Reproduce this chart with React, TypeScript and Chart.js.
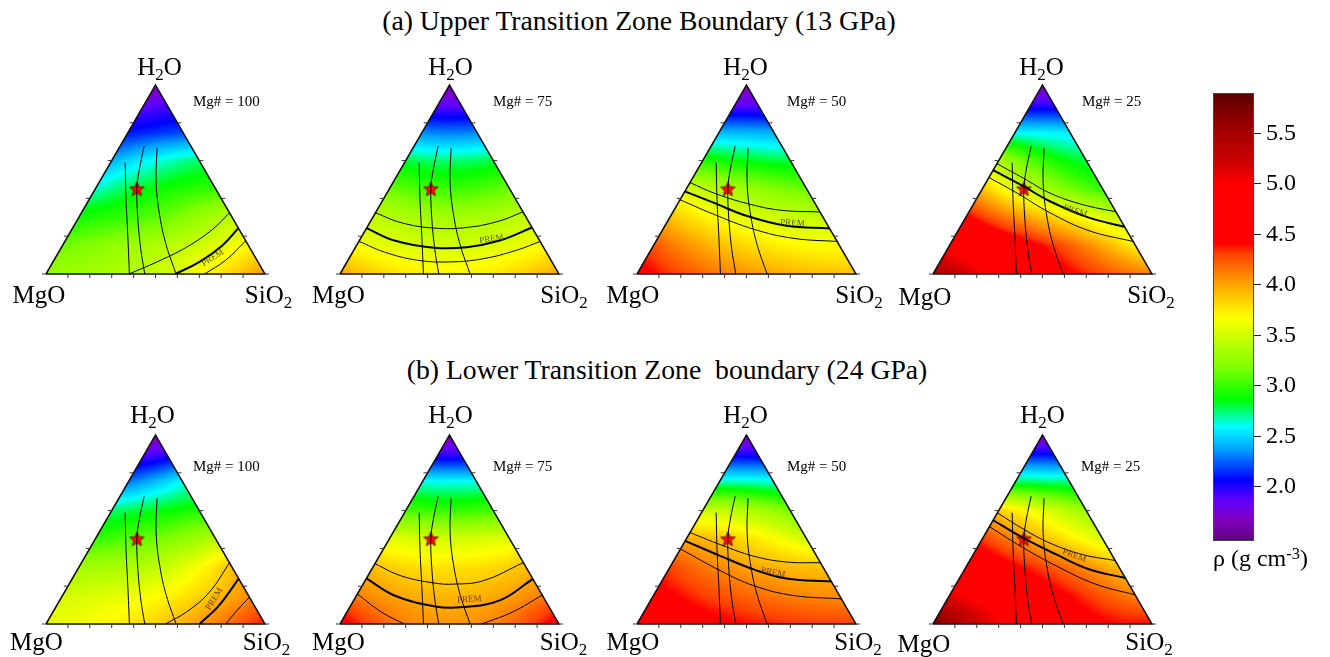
import React, { useEffect, useRef } from "react";
import { Chart, registerables } from "chart.js";

Chart.register(...registerables);

const SERIF = "'Liberation Serif', 'Times New Roman', Times, serif";
Chart.defaults.font.family = SERIF;

// ---------------- data ----------------
const MG_NUMBERS = [100, 75, 50, 25];
const ROW_TITLES = [
  "(a) Upper Transition Zone Boundary (13 GPa)",
  "(b) Lower Transition Zone  boundary (24 GPa)",
];
const PREM_TEXT = "PREM";

// colour bar (density, g cm-3)
const CB_MIN = 1.465;
const CB_MAX = 5.9;
const CB_TICKS = [2.0, 2.5, 3.0, 3.5, 4.0, 4.5, 5.0, 5.5];

const CMAP_VALUES = [1.46, 1.68, 1.87, 2.07, 2.37, 2.6, 2.73, 2.87, 3.19, 3.45, 3.68, 3.88, 4.08, 4.31, 4.41, 5.0, 5.2, 5.56, 5.9];
const CMAP_COLORS = [
  [96, 0, 128], [128, 0, 192], [96, 0, 255], [0, 0, 255], [0, 160, 255], [0, 255, 255],
  [0, 255, 128], [0, 255, 0], [128, 255, 0], [192, 255, 0], [255, 255, 0], [255, 200, 0],
  [255, 140, 0], [255, 64, 0], [255, 0, 0], [255, 0, 0], [208, 0, 0], [160, 0, 0], [90, 0, 0],
];

// density field: rows at these H2O fractions, values at relative positions 0, 0.5, 1 (MgO side -> SiO2 side)
const FIELD_H2O = [0, 0.15, 0.3, 0.45, 0.6, 0.75, 0.9, 1.0];

const RHO_A1 = [[3.30, 3.48, 4.05], [3.15, 3.38, 3.68], [2.92, 3.10, 3.45], [2.65, 2.88, 3.00], [2.42, 2.62, 2.75], [2.10, 2.15, 2.20], [1.85, 1.87, 1.90], [1.62, 1.62, 1.62]];
const RHO_A2 = [[4.00, 3.72, 4.00], [3.66, 3.52, 3.67], [3.46, 3.34, 3.47], [3.15, 3.02, 3.15], [2.80, 2.75, 2.80], [2.32, 2.30, 2.32], [1.85, 1.85, 1.85], [1.62, 1.62, 1.62]];
const RHO_A3 = [[4.50, 4.05, 3.90], [4.25, 3.82, 3.67], [3.90, 3.57, 3.47], [3.52, 3.30, 3.12], [2.95, 2.85, 2.80], [2.42, 2.42, 2.40], [1.85, 1.85, 1.85], [1.62, 1.62, 1.62]];
const RHO_A4 = [[5.50, 4.60, 4.10], [4.90, 4.40, 3.72], [4.45, 3.90, 3.48], [3.90, 3.35, 3.00], [3.38, 3.00, 2.80], [2.57, 2.57, 2.55], [1.95, 1.95, 1.95], [1.62, 1.62, 1.62]];
const RHO_B1 = [[3.62, 3.85, 4.40], [3.52, 3.68, 4.07], [3.35, 3.45, 3.92], [3.00, 3.15, 3.40], [2.75, 2.85, 2.95], [2.30, 2.45, 2.62], [1.90, 1.92, 1.95], [1.62, 1.62, 1.62]];
const RHO_B2 = [[4.50, 4.04, 4.50], [4.12, 3.94, 4.12], [3.91, 3.78, 3.91], [3.58, 3.52, 3.58], [3.05, 3.00, 3.05], [2.63, 2.62, 2.63], [1.95, 1.95, 1.95], [1.62, 1.62, 1.62]];
const RHO_B3 = [[4.70, 4.40, 4.30], [4.50, 4.20, 4.07], [4.30, 4.01, 3.91], [3.97, 3.80, 3.50], [3.50, 3.40, 3.20], [2.68, 2.68, 2.65], [2.00, 2.00, 2.00], [1.62, 1.62, 1.62]];
const RHO_B4 = [[5.80, 4.70, 4.40], [5.10, 4.55, 4.10], [4.70, 4.30, 3.92], [4.32, 3.92, 3.55], [3.85, 3.58, 3.30], [2.78, 2.76, 2.74], [2.07, 2.07, 2.07], [1.62, 1.62, 1.62]];

// compositions as [SiO2, H2O] (MgO = 1 - SiO2 - H2O)
const STAR = [0.19, 0.45];
const ISO_LEFT = [[0.067, 0.589], [0.169, 0.393], [0.272, 0.203], [0.381, 0]];
const ISO_MID = [[0.110, 0.676], [0.151, 0.549], [0.188, 0.454], [0.265, 0.307], [0.366, 0.133], [0.451, 0]];
const ISO_RIGHT = [[0.174, 0.666], [0.263, 0.480], [0.366, 0.307], [0.474, 0.151], [0.594, 0]];

const A1_HI = [[0.378, 0], [0.475, 0.064], [0.571, 0.142], [0.643, 0.237], [0.676, 0.324]];
const A1_PREM = [[0.590, 0], [0.669, 0.064], [0.730, 0.151], [0.757, 0.243]];
const A1_LO = [[0.724, 0], [0.784, 0.073], [0.824, 0.176]];
const A2_HI = [[0, 0.324], [0.142, 0.272], [0.307, 0.243], [0.456, 0.246], [0.589, 0.281], [0.671, 0.329]];
const A2_PREM = [[0, 0.243], [0.160, 0.177], [0.359, 0.139], [0.508, 0.142], [0.641, 0.177], [0.754, 0.246]];
const A2_LO = [[0, 0.173], [0.145, 0.116], [0.317, 0.073], [0.472, 0.064], [0.614, 0.081], [0.742, 0.125], [0.828, 0.172]];
const A3_HI = [[0, 0.484], [0.138, 0.428], [0.316, 0.373], [0.483, 0.338], [0.672, 0.328]];
const A3_PREM = [[0, 0.437], [0.164, 0.376], [0.349, 0.307], [0.555, 0.255], [0.759, 0.241]];
const A3_LO = [[0, 0.393], [0.195, 0.315], [0.414, 0.237], [0.618, 0.189], [0.828, 0.172]];
const A4_HI = [[0, 0.584], [0.161, 0.506], [0.320, 0.428], [0.500, 0.367], [0.671, 0.329]];
const A4_PREM = [[0, 0.549], [0.183, 0.463], [0.341, 0.385], [0.563, 0.298], [0.750, 0.250]];
const A4_LO = [[0, 0.511], [0.170, 0.428], [0.372, 0.324], [0.598, 0.229], [0.828, 0.172]];

const B1_HI = [[0.545, 0], [0.610, 0.064], [0.662, 0.168], [0.676, 0.324]];
const B1_PREM = [[0.701, 0], [0.741, 0.099], [0.760, 0.240]];
const B1_LO = [[0.821, 0], [0.837, 0.073], [0.858, 0.142]];
const B2_HI = [[0, 0.319], [0.151, 0.255], [0.320, 0.217], [0.413, 0.211], [0.540, 0.229], [0.675, 0.325]];
const B2_PREM = [[0, 0.241], [0.173, 0.151], [0.382, 0.094], [0.505, 0.088], [0.667, 0.125], [0.761, 0.239]];
const B2_LO_A = [[0, 0.159], [0.156, 0.064], [0.293, 0]];
const B2_LO_B = [[0.647, 0], [0.757, 0.064], [0.847, 0.153]];
const B3_HI = [[0, 0.484], [0.173, 0.419], [0.353, 0.359], [0.518, 0.328], [0.676, 0.324]];
const B3_PREM = [[0, 0.440], [0.203, 0.359], [0.388, 0.289], [0.562, 0.241], [0.775, 0.225]];
const B3_LO = [[0, 0.397], [0.242, 0.281], [0.431, 0.203], [0.637, 0.151], [0.867, 0.133]];
const B4_HI = [[0, 0.588], [0.164, 0.501], [0.320, 0.428], [0.500, 0.367], [0.664, 0.336]];
const B4_PREM = [[0, 0.549], [0.187, 0.454], [0.379, 0.368], [0.567, 0.290], [0.757, 0.243]];
const B4_LO = [[0, 0.515], [0.213, 0.402], [0.410, 0.307], [0.637, 0.211], [0.846, 0.154]];

// PREM label: [SiO2, H2O, angle deg]
const PREM_LABELS_UPPER = [[0.719, 0.085, 32], [0.599, 0.185, 9], [0.575, 0.269, -4], [0.483, 0.333, -18]];
const PREM_LABELS_LOWER = [[0.702, 0.133, 58], [0.526, 0.130, 4], [0.486, 0.272, -10], [0.464, 0.362, -20]];

const SIDE_TICKS = [0, 0.2, 0.4, 0.6, 0.8];
const BASE_TICKS = [0.1, 0.2, 0.3, 0.4, 0.5, 0.6, 0.7, 0.8, 0.9];
const TRIANGLE = [[0, 0], [1, 0], [0, 1], [0, 0]];

// ---------------- layout ----------------
const SIDE = 223;
const PAD = 8;
const PANEL_X = [43.5, 338, 635, 931];
const APEX_Y = [83, 433];
const H2O_CX = [[159.5, 450.5, 745.5, 1041.5], [152.5, 450.5, 745.5, 1042.5]];
const H2O_BASE = [75, 423];
const MGO_CX = [[39, 338.5, 633, 925], [36.5, 338.5, 633, 924]];
const SIO2_CX = [[268.5, 564, 859, 1151], [266.5, 563.5, 858, 1149]];
const CORNER_BASE = [303, 650];
const MG_LEFT = [[193, 493, 787, 1082], [193, 493, 787, 1081]];
const MG_BASE = [106.7, 471.7];
const TITLE_CX = [639, 667];
const TITLE_BASE = [30.5, 379];

const SQ = Math.sqrt(3) / 2;
const toXY = (p: number[]) => ({ x: p[0] + p[1] / 2, y: p[1] * SQ });

const rhoColor = (v: number) => {
  const n = CMAP_VALUES.length;
  if (v <= CMAP_VALUES[0]) return CMAP_COLORS[0];
  for (let i = 1; i < n; i++) {
    if (v <= CMAP_VALUES[i]) {
      const f = (v - CMAP_VALUES[i - 1]) / (CMAP_VALUES[i] - CMAP_VALUES[i - 1]);
      const a = CMAP_COLORS[i - 1];
      const b = CMAP_COLORS[i];
      return [a[0] + (b[0] - a[0]) * f, a[1] + (b[1] - a[1]) * f, a[2] + (b[2] - a[2]) * f];
    }
  }
  return CMAP_COLORS[n - 1];
};

const clamp = (v: number, a: number, b: number) => Math.max(a, Math.min(b, v));

const fieldAt = (grid: number[][], s: number, w: number) => {
  w = clamp(w, 0, 1);
  let i = 0;
  while (i < FIELD_H2O.length - 2 && w > FIELD_H2O[i + 1]) i++;
  const fw = (w - FIELD_H2O[i]) / (FIELD_H2O[i + 1] - FIELD_H2O[i]);
  const t = w < 0.999 ? clamp(s / (1 - w), 0, 1) : 0.5;
  const l0 = 2 * (t - 0.5) * (t - 1);
  const l1 = -4 * t * (t - 1);
  const l2 = 2 * t * (t - 0.5);
  const row = (r: number[]) => r[0] * l0 + r[1] * l1 + r[2] * l2;
  return row(grid[i]) * (1 - fw) + row(grid[i + 1]) * fw;
};

function makeStar() {
  const c = document.createElement("canvas");
  c.width = 19;
  c.height = 19;
  const g = c.getContext("2d")!;
  g.beginPath();
  for (let k = 0; k < 10; k++) {
    const r = k % 2 === 0 ? 7.8 : 3.5;
    const a = -Math.PI / 2 + (k * Math.PI) / 5;
    const x = 9.5 + r * Math.cos(a);
    const y = 10 + r * Math.sin(a);
    if (k === 0) g.moveTo(x, y);
    else g.lineTo(x, y);
  }
  g.closePath();
  g.fillStyle = "#ff0a0a";
  g.fill();
  g.lineWidth = 0.7;
  g.strokeStyle = "#4a0000";
  g.stroke();
  return c;
}

function fieldPlugin(grid: number[][]) {
  let cache: HTMLCanvasElement | null = null;
  return {
    id: "densityField",
    beforeDatasetsDraw(chart: any) {
      const { ctx, chartArea: a, scales } = chart;
      const xs = scales.x;
      const ys = scales.y;
      const x0 = Math.floor(a.left) - 2;
      const y0 = Math.floor(a.top) - 2;
      const W = Math.ceil(a.right) - x0 + 4;
      const H = Math.ceil(a.bottom) - y0 + 4;
      if (!cache) {
        const off = document.createElement("canvas");
        off.width = W;
        off.height = H;
        const octx = off.getContext("2d")!;
        const img = octx.createImageData(W, H);
        for (let py = 0; py < H; py++) {
          const Y = ys.getValueForPixel(y0 + py + 0.5);
          const hw = clamp(Y / SQ, 0, 1);
          for (let px = 0; px < W; px++) {
            const X = xs.getValueForPixel(x0 + px + 0.5);
            const s = clamp(X - hw / 2, 0, 1 - hw);
            const col = rhoColor(fieldAt(grid, s, hw));
            const k = (py * W + px) * 4;
            img.data[k] = col[0];
            img.data[k + 1] = col[1];
            img.data[k + 2] = col[2];
            img.data[k + 3] = 255;
          }
        }
        octx.putImageData(img, 0, 0);
        cache = off;
      }
      ctx.save();
      ctx.beginPath();
      TRIANGLE.forEach((p, i) => {
        const q = toXY(p);
        const px = xs.getPixelForValue(q.x);
        const py = ys.getPixelForValue(q.y);
        if (i === 0) ctx.moveTo(px, py);
        else ctx.lineTo(px, py);
      });
      ctx.closePath();
      ctx.clip();
      ctx.drawImage(cache, x0, y0);
      ctx.restore();
    },
  };
}

function decorPlugin(label: number[], labelColor: string) {
  return {
    id: "ternaryDecor",
    afterDatasetsDraw(chart: any) {
      const { ctx, scales } = chart;
      const xs = scales.x;
      const ys = scales.y;
      const pix = (p: number[]) => {
        const q = toXY(p);
        return [xs.getPixelForValue(q.x), ys.getPixelForValue(q.y)];
      };
      ctx.save();
      ctx.strokeStyle = "#333";
      ctx.lineWidth = 1;
      const TL = 4;
      ctx.beginPath();
      BASE_TICKS.forEach((f) => {
        const [x, y] = pix([f, 0]);
        ctx.moveTo(x, y);
        ctx.lineTo(x, y + TL);
      });
      SIDE_TICKS.forEach((f) => {
        const [lx, ly] = pix([0, f]);
        ctx.moveTo(lx, ly);
        ctx.lineTo(lx - TL, ly);
        const [rx, ry] = pix([1 - f, f]);
        ctx.moveTo(rx, ry);
        ctx.lineTo(rx + TL, ry);
      });
      ctx.stroke();
      // PREM label
      const [px, py] = pix([label[0], label[1]]);
      ctx.translate(px, py);
      ctx.rotate((-label[2] * Math.PI) / 180);
      ctx.font = "9px " + SERIF;
      ctx.fillStyle = labelColor;
      ctx.textAlign = "center";
      ctx.textBaseline = "middle";
      ctx.fillText(PREM_TEXT, 0, 0);
      ctx.restore();
    },
  };
}

type PanelSpec = {
  row: number;
  col: number;
  grid: number[][];
  thin: number[][][];
  prem: number[][];
  label: number[];
};

const PANELS: PanelSpec[] = [
  { row: 0, col: 0, grid: RHO_A1, thin: [A1_HI, A1_LO], prem: A1_PREM, label: PREM_LABELS_UPPER[0] },
  { row: 0, col: 1, grid: RHO_A2, thin: [A2_HI, A2_LO], prem: A2_PREM, label: PREM_LABELS_UPPER[1] },
  { row: 0, col: 2, grid: RHO_A3, thin: [A3_HI, A3_LO], prem: A3_PREM, label: PREM_LABELS_UPPER[2] },
  { row: 0, col: 3, grid: RHO_A4, thin: [A4_HI, A4_LO], prem: A4_PREM, label: PREM_LABELS_UPPER[3] },
  { row: 1, col: 0, grid: RHO_B1, thin: [B1_HI, B1_LO], prem: B1_PREM, label: PREM_LABELS_LOWER[0] },
  { row: 1, col: 1, grid: RHO_B2, thin: [B2_HI, B2_LO_A, B2_LO_B], prem: B2_PREM, label: PREM_LABELS_LOWER[1] },
  { row: 1, col: 2, grid: RHO_B3, thin: [B3_HI, B3_LO], prem: B3_PREM, label: PREM_LABELS_LOWER[2] },
  { row: 1, col: 3, grid: RHO_B4, thin: [B4_HI, B4_LO], prem: B4_PREM, label: PREM_LABELS_LOWER[3] },
];

const lineDs = (pts: number[][], width: number) => ({
  data: pts.map(toXY),
  showLine: true,
  borderColor: "#000",
  borderWidth: width,
  pointRadius: 0,
  tension: 0.4,
  fill: false,
  clip: false,
});

function TernaryPanel({ spec }: { spec: PanelSpec }) {
  const ref = useRef<HTMLCanvasElement>(null);
  const cw = SIDE + 2 * PAD;
  const ch = Math.round(SIDE * SQ) + 2 * PAD;
  useEffect(() => {
    const star = makeStar();
    const datasets: any[] = [
      lineDs(ISO_LEFT, 1),
      lineDs(ISO_MID, 1),
      lineDs(ISO_RIGHT, 1),
      ...spec.thin.map((t) => lineDs(t, 1)),
      lineDs(spec.prem, 2),
      { ...lineDs(TRIANGLE, 1.5), tension: 0, borderJoinStyle: "miter", borderColor: "#111" },
      { data: [toXY(STAR)], showLine: false, pointStyle: star, pointRadius: 9, clip: false },
    ];
    const chart = new Chart(ref.current!, {
      type: "scatter",
      data: { datasets },
      options: {
        animation: false,
        responsive: false,
        maintainAspectRatio: false,
        layout: { padding: PAD },
        events: [],
        scales: {
          x: { type: "linear", min: 0, max: 1, display: false },
          y: { type: "linear", min: 0, max: SQ, display: false },
        },
        plugins: { legend: { display: false }, tooltip: { enabled: false } },
      },
      plugins: [fieldPlugin(spec.grid), decorPlugin(spec.label, spec.row === 0 ? "rgba(80,80,0,0.95)" : "rgba(105,55,0,0.95)")],
    } as any);
    return () => chart.destroy();
  }, [spec]);
  return (
    <canvas
      ref={ref}
      width={cw}
      height={ch}
      style={{ position: "absolute", left: PANEL_X[spec.col] - PAD, top: APEX_Y[spec.row] - PAD, width: cw, height: ch }}
    />
  );
}

function ColorBar() {
  const ref = useRef<HTMLCanvasElement>(null);
  const left = 1203;
  const top = 73;
  const w = 110;
  const h = 488;
  useEffect(() => {
    const gradPlugin = {
      id: "cbGradient",
      beforeDatasetsDraw(chart: any) {
        const { ctx, chartArea: a, scales } = chart;
        const ys = scales.y;
        const yb = ys.getPixelForValue(CB_MIN);
        const yt = ys.getPixelForValue(CB_MAX);
        const g = ctx.createLinearGradient(0, yb, 0, yt);
        CMAP_VALUES.forEach((v, i) => {
          const off = clamp((ys.getPixelForValue(v) - yb) / (yt - yb), 0, 1);
          const c = CMAP_COLORS[i];
          g.addColorStop(off, `rgb(${c[0]},${c[1]},${c[2]})`);
        });
        ctx.save();
        ctx.fillStyle = g;
        ctx.fillRect(a.left, yt, a.right - a.left, yb - yt);
        ctx.strokeStyle = "#444";
        ctx.lineWidth = 1;
        ctx.strokeRect(a.left + 0.5, yt + 0.5, a.right - a.left - 1, yb - yt - 1);
        ctx.restore();
      },
    };
    const chart = new Chart(ref.current!, {
      type: "scatter",
      data: { datasets: [{ data: [] }] },
      options: {
        animation: false,
        responsive: false,
        maintainAspectRatio: false,
        events: [],
        layout: { padding: { left: 10, top: 20, bottom: 20, right: 0 } },
        scales: {
          x: { type: "linear", min: 0, max: 1, display: false },
          y: {
            type: "linear",
            position: "right",
            min: CB_MIN,
            max: CB_MAX,
            afterBuildTicks: (s: any) => {
              s.ticks = CB_TICKS.map((v) => ({ value: v }));
            },
            afterFit: (s: any) => {
              s.width = 59;
            },
            ticks: {
              callback: (v: any) => Number(v).toFixed(1),
              font: { family: SERIF, size: 24 },
              color: "#000",
              padding: 5,
            },
            grid: { drawOnChartArea: false, drawTicks: true, tickLength: 7, color: "#222", lineWidth: 1 },
            border: { display: false },
          },
        },
        plugins: { legend: { display: false }, tooltip: { enabled: false } },
      },
      plugins: [gradPlugin],
    } as any);
    return () => chart.destroy();
  }, []);
  return <canvas ref={ref} width={w} height={h} style={{ position: "absolute", left, top, width: w, height: h }} />;
}

const subStyle: React.CSSProperties = { fontSize: "0.68em", position: "relative", top: "0.28em", verticalAlign: "baseline", lineHeight: 0 };
const supStyle: React.CSSProperties = { fontSize: "0.68em", position: "relative", top: "-0.42em", verticalAlign: "baseline", lineHeight: 0 };

function Txt({ x, base, size, center, children }: any) {
  return (
    <div
      style={{
        position: "absolute",
        left: x,
        top: base - 0.8375 * size,
        fontSize: size,
        lineHeight: 1,
        whiteSpace: "pre",
        transform: center ? "translateX(-50%)" : undefined,
        fontFamily: SERIF,
        color: "#000",
      }}
    >
      {children}
    </div>
  );
}

export default function App() {
  return (
    <div style={{ position: "absolute", left: 0, top: 0, width: 1330, height: 657, background: "#fff", overflow: "hidden" }}>
      {ROW_TITLES.map((t, r) => (
        <Txt key={"t" + r} x={TITLE_CX[r]} base={TITLE_BASE[r]} size={27.7} center>
          {t}
        </Txt>
      ))}
      {PANELS.map((p, i) => (
        <TernaryPanel key={i} spec={p} />
      ))}
      {PANELS.map((p, i) => (
        <React.Fragment key={"l" + i}>
          <Txt x={H2O_CX[p.row][p.col]} base={H2O_BASE[p.row]} size={25} center>
            H<span style={subStyle}>2</span>O
          </Txt>
          <Txt x={MGO_CX[p.row][p.col]} base={CORNER_BASE[p.row] + (p.col === 3 ? 1.5 : 0)} size={25} center>
            MgO
          </Txt>
          <Txt x={SIO2_CX[p.row][p.col]} base={CORNER_BASE[p.row]} size={25} center>
            SiO<span style={subStyle}>2</span>
          </Txt>
          <Txt x={MG_LEFT[p.row][p.col]} base={MG_BASE[p.row]} size={15}>
            {"Mg# = " + MG_NUMBERS[p.col]}
          </Txt>
        </React.Fragment>
      ))}
      <ColorBar />
      <Txt x={1213} base={566} size={24}>
        ρ (g cm<span style={supStyle}>-3</span>)
      </Txt>
    </div>
  );
}
